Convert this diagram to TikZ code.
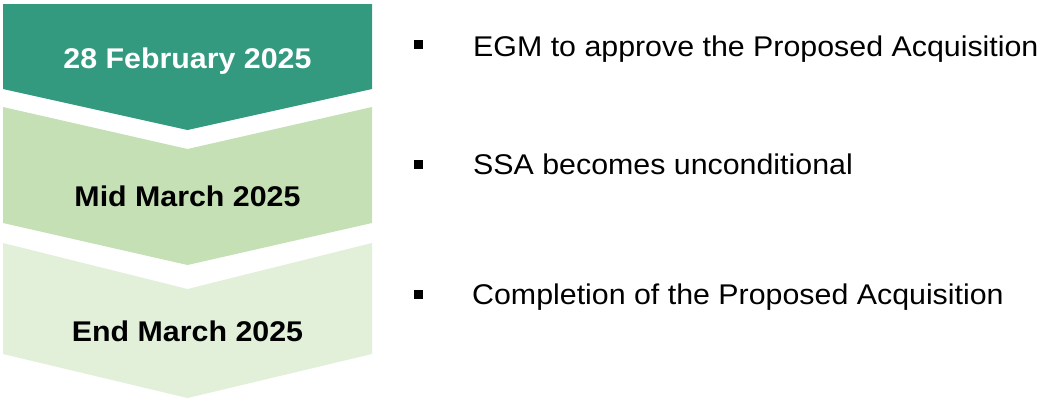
\documentclass[tikz,border=0pt]{standalone}
\usepackage{fontspec}
\setmainfont{Liberation Sans}[FakeStretch=1.065]
\definecolor{stepdark}{HTML}{339A80}
\definecolor{stepmid}{HTML}{C5E0B4}
\definecolor{steplight}{HTML}{E2EFD9}
\begin{document}
\begin{tikzpicture}[x=1pt,y=-1pt,
  datelabel/.style={anchor=base,inner sep=0pt,font=\fontsize{28.5}{34}\selectfont\bfseries},
  itemlabel/.style={anchor=base west,inner sep=0pt,font=\fontsize{28.5}{34}\selectfont},
  bulletsq/.style={fill=black,draw=none,minimum size=9pt,inner sep=0pt}]
\useasboundingbox (0,0) rectangle (1040,399);
% timeline chevrons
\fill[stepdark]  (3,4) -- (372,4) -- (372,89) -- (187.5,130) -- (3,89) -- cycle;
\fill[stepmid]   (3,107) -- (187.5,149) -- (372,107) -- (372,223) -- (187.5,265) -- (3,223) -- cycle;
\fill[steplight] (3,243) -- (187.5,289) -- (372,243) -- (372,354) -- (187.5,398) -- (3,354) -- cycle;
% dates
\node[datelabel,text=white] (d1) at (187.5,68.3) {28 February 2025};
\node[datelabel] (d2) at (187.5,206) {Mid March 2025};
\node[datelabel] (d3) at (187.5,341.5) {End March 2025};
% milestones
\node[bulletsq] (b1) at (418.5,44.5) {};
\node[bulletsq] (b2) at (418.5,164.7) {};
\node[bulletsq] (b3) at (418.5,294.2) {};
\node[itemlabel] (t1) at (473,56.7) {EGM to approve the Proposed Acquisition};
\node[itemlabel] (t2) at (473,174.3) {SSA becomes unconditional};
\node[itemlabel] (t3) at (472,304.5) {Completion of the Proposed Acquisition};
\end{tikzpicture}
\end{document}
